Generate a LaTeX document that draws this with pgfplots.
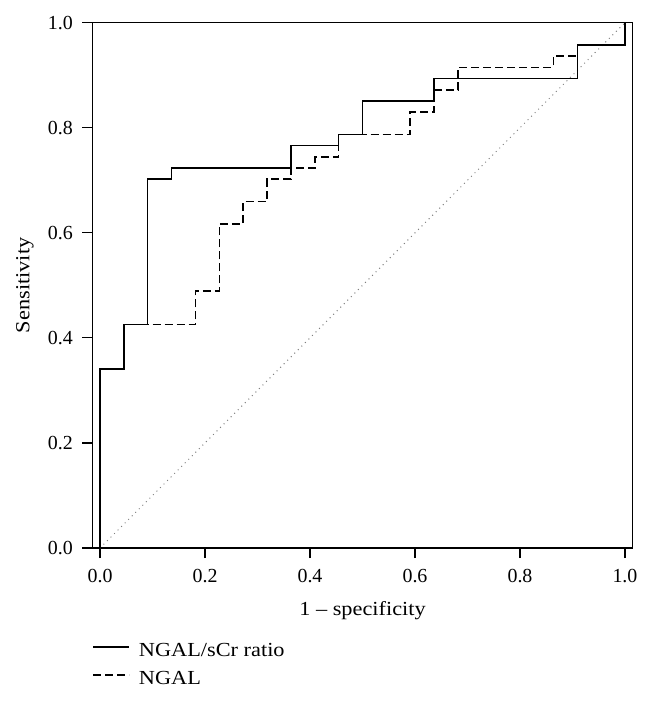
\documentclass[border=0pt]{standalone}
\usepackage{fontspec}
\setmainfont{Liberation Serif}
\newfontfamily\widefont{Liberation Serif}[FakeStretch=1.12]
\usepackage{pgfplots}
\pgfplotsset{compat=1.18}
\begin{document}
\begin{tikzpicture}
\begin{axis}[
  name=ax,
  at={(0,0)}, anchor=south west,
  scale only axis,
  width=540.4bp, height=525.3bp,
  xmin=-0.0147, xmax=1.0147, ymin=0, ymax=1,
  xtick={0,0.2,0.4,0.6,0.8,1}, ytick={0,0.2,0.4,0.6,0.8,1},
  xtick pos=bottom, ytick pos=left,
  tick align=outside, major tick length=10bp,
  tick style={line width=1.2bp, black},
  axis line style={line width=1.3bp},
  /pgf/number format/fixed, /pgf/number format/fixed zerofill,
  /pgf/number format/precision=1, /pgf/number format/assume math mode=true,
  xticklabel style={font=\fontsize{20}{24}\selectfont, yshift=-8bp},
  yticklabel style={font=\fontsize{20}{24}\selectfont, xshift=-6bp},
  xlabel={1 – specificity},
  ylabel={Sensitivity},
  every axis x label/.style={at={(rel axis cs:0.5,-0.1294)}, anchor=base, font=\widefont\fontsize{20}{24}\selectfont},
  every axis y label/.style={at={(rel axis cs:-0.1245,0.5)}, rotate=90, anchor=center, font=\widefont\fontsize{20}{24}\selectfont},
  legend style={at={(rel axis cs:0,-0.181)}, anchor=north west, draw=none, fill=none,
    font=\widefont\fontsize{20}{24}\selectfont, row sep=13bp, inner sep=0pt,
    nodes={inner sep=0pt}, column sep=9bp},
  legend cell align=left,
  legend image code/.code={\draw[#1] (0bp,0.35em) -- (36bp,0.35em);},
]
\addplot[gray, line width=1bp, dash pattern=on 1bp off 4bp, forget plot] coordinates {(0,0) (1,1)};
\addplot[black, line width=1.5bp] coordinates {
(0,0) (0,0.3404) (0.0455,0.3404) (0.0455,0.4255) (0.0909,0.4255) (0.0909,0.7021)
(0.1364,0.7021) (0.1364,0.7234) (0.3636,0.7234) (0.3636,0.7660) (0.4545,0.7660)
(0.4545,0.7872) (0.5,0.7872) (0.5,0.8511) (0.6364,0.8511) (0.6364,0.8936)
(0.9091,0.8936) (0.9091,0.9574) (1,0.9574) (1,1)};
\addlegendentry{NGAL/sCr ratio}
\addplot[black, line width=1.5bp, dash pattern=on 8bp off 4bp] coordinates {
(0,0) (0,0.3404) (0.0455,0.3404) (0.0455,0.4255) (0.1818,0.4255) (0.1818,0.4894)
(0.2273,0.4894) (0.2273,0.6170) (0.2727,0.6170) (0.2727,0.6596) (0.3182,0.6596)
(0.3182,0.7021) (0.3636,0.7021) (0.3636,0.7234) (0.4091,0.7234) (0.4091,0.7447)
(0.4545,0.7447) (0.4545,0.7872) (0.5909,0.7872) (0.5909,0.8298) (0.6364,0.8298)
(0.6364,0.8723) (0.6818,0.8723) (0.6818,0.9149) (0.8636,0.9149) (0.8636,0.9362)
(0.9091,0.9362) (0.9091,0.9574) (1,0.9574) (1,1)};
\addlegendentry{NGAL}
\end{axis}
\pgfresetboundingbox
\useasboundingbox ([xshift=-92.3bp,yshift=-170bp]ax.south west) rectangle ++(651bp,718bp);
\end{tikzpicture}
\end{document}
